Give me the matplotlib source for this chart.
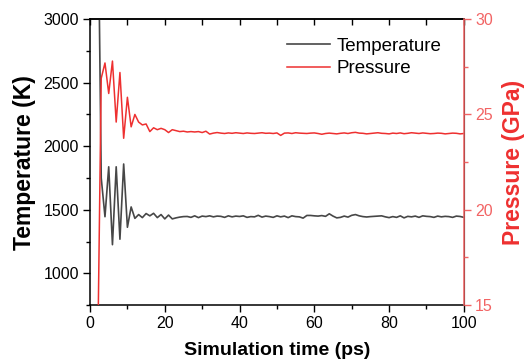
import numpy as np
import matplotlib
matplotlib.use("Agg")
import matplotlib.pyplot as plt
from matplotlib.ticker import MultipleLocator

plt.rcParams['font.family'] = ['Liberation Sans', 'DejaVu Sans']

# simulation time (ps), one sample per ps from 2 to 100
time_ps = np.arange(2, 101)

temperature = [
    4300, 1750, 1445, 1838, 1225, 1838, 1268, 1860, 1362, 1522,
    1432, 1462, 1438, 1470, 1452, 1472, 1438, 1462, 1428, 1458,
    1428, 1436, 1442, 1446, 1447, 1440, 1452, 1438, 1450, 1446,
    1452, 1444, 1450, 1448, 1440, 1452, 1444, 1450, 1447, 1452,
    1440, 1446, 1444, 1456, 1442, 1450, 1446, 1440, 1452, 1444,
    1450, 1438, 1452, 1446, 1444, 1434, 1455, 1455, 1452, 1450,
    1454, 1448, 1468, 1450, 1436, 1440, 1450, 1442, 1456, 1462,
    1452, 1446, 1443, 1446, 1448, 1450, 1452, 1444, 1438, 1446,
    1440, 1452, 1436, 1448, 1444, 1450, 1440, 1452, 1448, 1446,
    1440, 1450, 1444, 1448, 1446, 1440, 1450, 1447, 1440,
]

pressure = [
    11.5, 26.9, 27.7, 26.1, 27.8, 24.6, 27.2, 23.75, 25.9, 24.35,
    25.0, 24.6, 24.45, 24.5, 24.1, 24.3, 24.2, 24.27, 24.2, 24.05,
    24.2, 24.15, 24.1, 24.12, 24.08, 24.1, 24.08, 24.1, 24.05, 24.12,
    23.97, 24.02, 24.05, 24.02, 24.0, 24.03, 24.01, 24.04, 24.02, 24.0,
    24.03, 24.01, 24.0, 24.02, 24.04, 24.01, 24.02, 24.0, 24.03, 23.9,
    24.02, 24.03, 24.0, 24.04, 24.02, 24.01, 24.0, 24.02, 24.03, 24.0,
    23.96, 24.0, 24.02, 24.0, 23.98, 24.01, 24.03, 24.0, 24.04, 24.06,
    24.02, 24.01, 23.98, 24.0, 24.02, 24.04, 24.01, 24.0, 23.98, 24.02,
    24.0, 24.03, 23.99, 24.01, 24.04, 24.02, 24.0, 24.03, 24.01, 23.99,
    24.0, 24.02, 24.01, 23.98, 24.0, 24.02, 24.01, 23.98, 24.0,
]

t_color = '#474747'
p_color = '#ee3030'
p_axis = '#f26464'

fig = plt.figure(figsize=(5.28, 3.61), dpi=100)
ax = fig.add_axes([0.1705, 0.155, 0.708, 0.792])
ax2 = ax.twinx()

l1, = ax.plot(time_ps, temperature, color=t_color, lw=1.2, label='Temperature')
l2, = ax2.plot(time_ps, pressure, color=p_color, lw=1.1, label='Pressure')

ax.set_xlim(0, 100)
ax.set_ylim(750, 3000)
ax2.set_ylim(15, 30)

ax.xaxis.set_major_locator(MultipleLocator(20))
ax.xaxis.set_minor_locator(MultipleLocator(10))
ax.yaxis.set_major_locator(MultipleLocator(500))
ax.yaxis.set_minor_locator(MultipleLocator(250))
ax2.yaxis.set_major_locator(MultipleLocator(5))
ax2.yaxis.set_minor_locator(MultipleLocator(2.5))

ax.tick_params(which='major', direction='out', length=5, width=1, labelsize=11.5, pad=3)
ax.tick_params(which='minor', direction='out', length=3, width=1)
ax2.tick_params(which='major', direction='out', length=5, width=1, labelsize=11.5,
                colors=p_axis, pad=3)
ax2.tick_params(which='minor', direction='out', length=3, width=1, colors=p_axis)

# inward ticks along the top
top = ax.secondary_xaxis('top')
top.xaxis.set_major_locator(MultipleLocator(10))
top.tick_params(direction='in', length=4, width=1, labeltop=False)

for sp in ['left', 'bottom', 'top']:
    ax.spines[sp].set_linewidth(1.1)
ax2.spines['right'].set_color(p_axis)
ax2.spines['right'].set_linewidth(1.1)
ax2.spines['left'].set_visible(False)
ax2.spines['top'].set_visible(False)
ax2.spines['bottom'].set_visible(False)
top.spines['top'].set_linewidth(1.1)

ax.set_xlabel('Simulation time (ps)', fontsize=14, fontweight='bold', labelpad=8)
ax.set_ylabel('Temperature (K)', fontsize=16.5, fontweight='bold', labelpad=5)
ax2.set_ylabel('Pressure (GPa)', fontsize=16.5, fontweight='bold', color=p_color, labelpad=7)

leg = ax2.legend(handles=[l1, l2], loc='upper right', bbox_to_anchor=(0.985, 0.995),
                 frameon=False, fontsize=13.5, handlelength=2.3, handletextpad=0.35,
                 labelspacing=0.3)

fig.savefig('out.png', dpi=100)
